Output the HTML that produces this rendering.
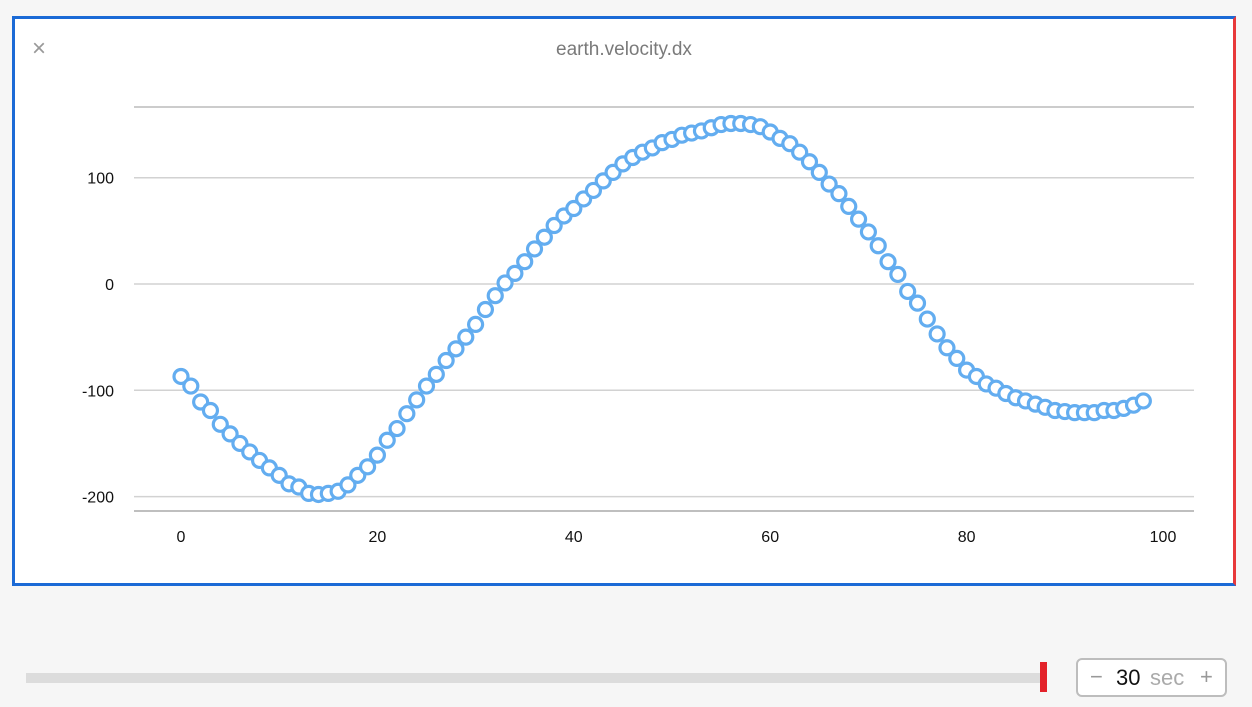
<!DOCTYPE html>
<html><head><meta charset="utf-8"><style>
body{margin:0;width:1252px;height:707px;background:#f6f6f6;font-family:"Liberation Sans",sans-serif;position:relative;overflow:hidden}
#panel{position:absolute;left:12px;top:16px;width:1218px;height:564px;background:#fff;border:3px solid #1b6ad6;border-right-color:#e8393a}
#title{position:absolute;left:0;width:100%;top:20px;text-align:center;font-size:19px;color:#7a7a7a}
#close{position:absolute;left:17px;top:16px;font-size:24px;color:#999}
svg{position:absolute;left:0;top:0}
#track{position:absolute;left:26px;top:673px;width:1016px;height:10px;background:#dcdcdc}
#handle{position:absolute;left:1040px;top:662px;width:7px;height:30px;background:#e3222a}
#stepper{position:absolute;left:1076px;top:658px;width:147px;height:35px;border:2px solid #bdbdbd;border-radius:6px;background:#fff;font-size:22px}
</style></head><body>
<div id="panel">
<div id="close">×</div>
<div id="title">earth.velocity.dx</div>
</div>
<svg width="1252" height="707" id="chart"></svg>
<div id="track"></div>
<div id="handle"></div>
<div id="stepper">
<span style="position:absolute;left:12px;top:4px;color:#999">−</span>
<span style="position:absolute;left:38px;top:5px;color:#111">30</span>
<span style="position:absolute;left:72px;top:5px;color:#aaa">sec</span>
<span style="position:absolute;left:122px;top:4px;color:#999">+</span>
</div>
<script>
const yValues=[-87,-96,-111,-119,-132,-141,-150,-158,-166,-173,-180,-188,-191,-197,-198,-197,-195,-189,-180,-172,-161,-147,-136,-122,-109,-96,-85,-72,-61,-50,-38,-24,-11,1,10,21,33,44,55,64,71,80,88,97,105,113,119,124,128,133,136,140,142,144,147,150,151,151,150,148,143,137,132,124,115,105,94,85,73,61,49,36,21,9,-7,-18,-33,-47,-60,-70,-81,-87,-94,-98,-103,-107,-110,-113,-116,-119,-120,-121,-121,-121,-119,-119,-117,-114,-110];
const yTicks=[100,0,-100,-200];
const xTicks=[0,20,40,60,80,100];
const NS='http://www.w3.org/2000/svg';
const svg=document.getElementById('chart');
const X=v=>181+v*9.82;
const Y=v=>284-v*1.063;
function mk(t,a){const e=document.createElementNS(NS,t);for(const k in a)e.setAttribute(k,a[k]);svg.appendChild(e);return e;}
let g=mk('line',{x1:134,x2:1194,y1:107,y2:107,stroke:'#bbb','stroke-width':1.5});


let ax=mk('line',{x1:134,x2:1194,y1:511,y2:511,stroke:'#aaa','stroke-width':1.5});


yTicks.forEach(v=>{
 const l=mk('line',{x1:134,x2:1194,y1:Y(v),y2:Y(v),stroke:'#d2d2d2','stroke-width':1.5});
 
 
 const t=mk('text',{x:114,y:Y(v)+6,'text-anchor':'end','font-size':16,fill:'#111'});
 t.textContent=v;
 
 
});
xTicks.forEach(v=>{
 const t=mk('text',{x:X(v),y:542,'text-anchor':'middle','font-size':16,fill:'#111'});
 t.textContent=v;
 
 
});
yValues.forEach((v,i)=>{
 const c=mk('circle',{cx:X(i),cy:Y(v),r:7,fill:'#fff',stroke:'#63adf0','stroke-width':3.2});
 
 
});
</script>
</body></html>
